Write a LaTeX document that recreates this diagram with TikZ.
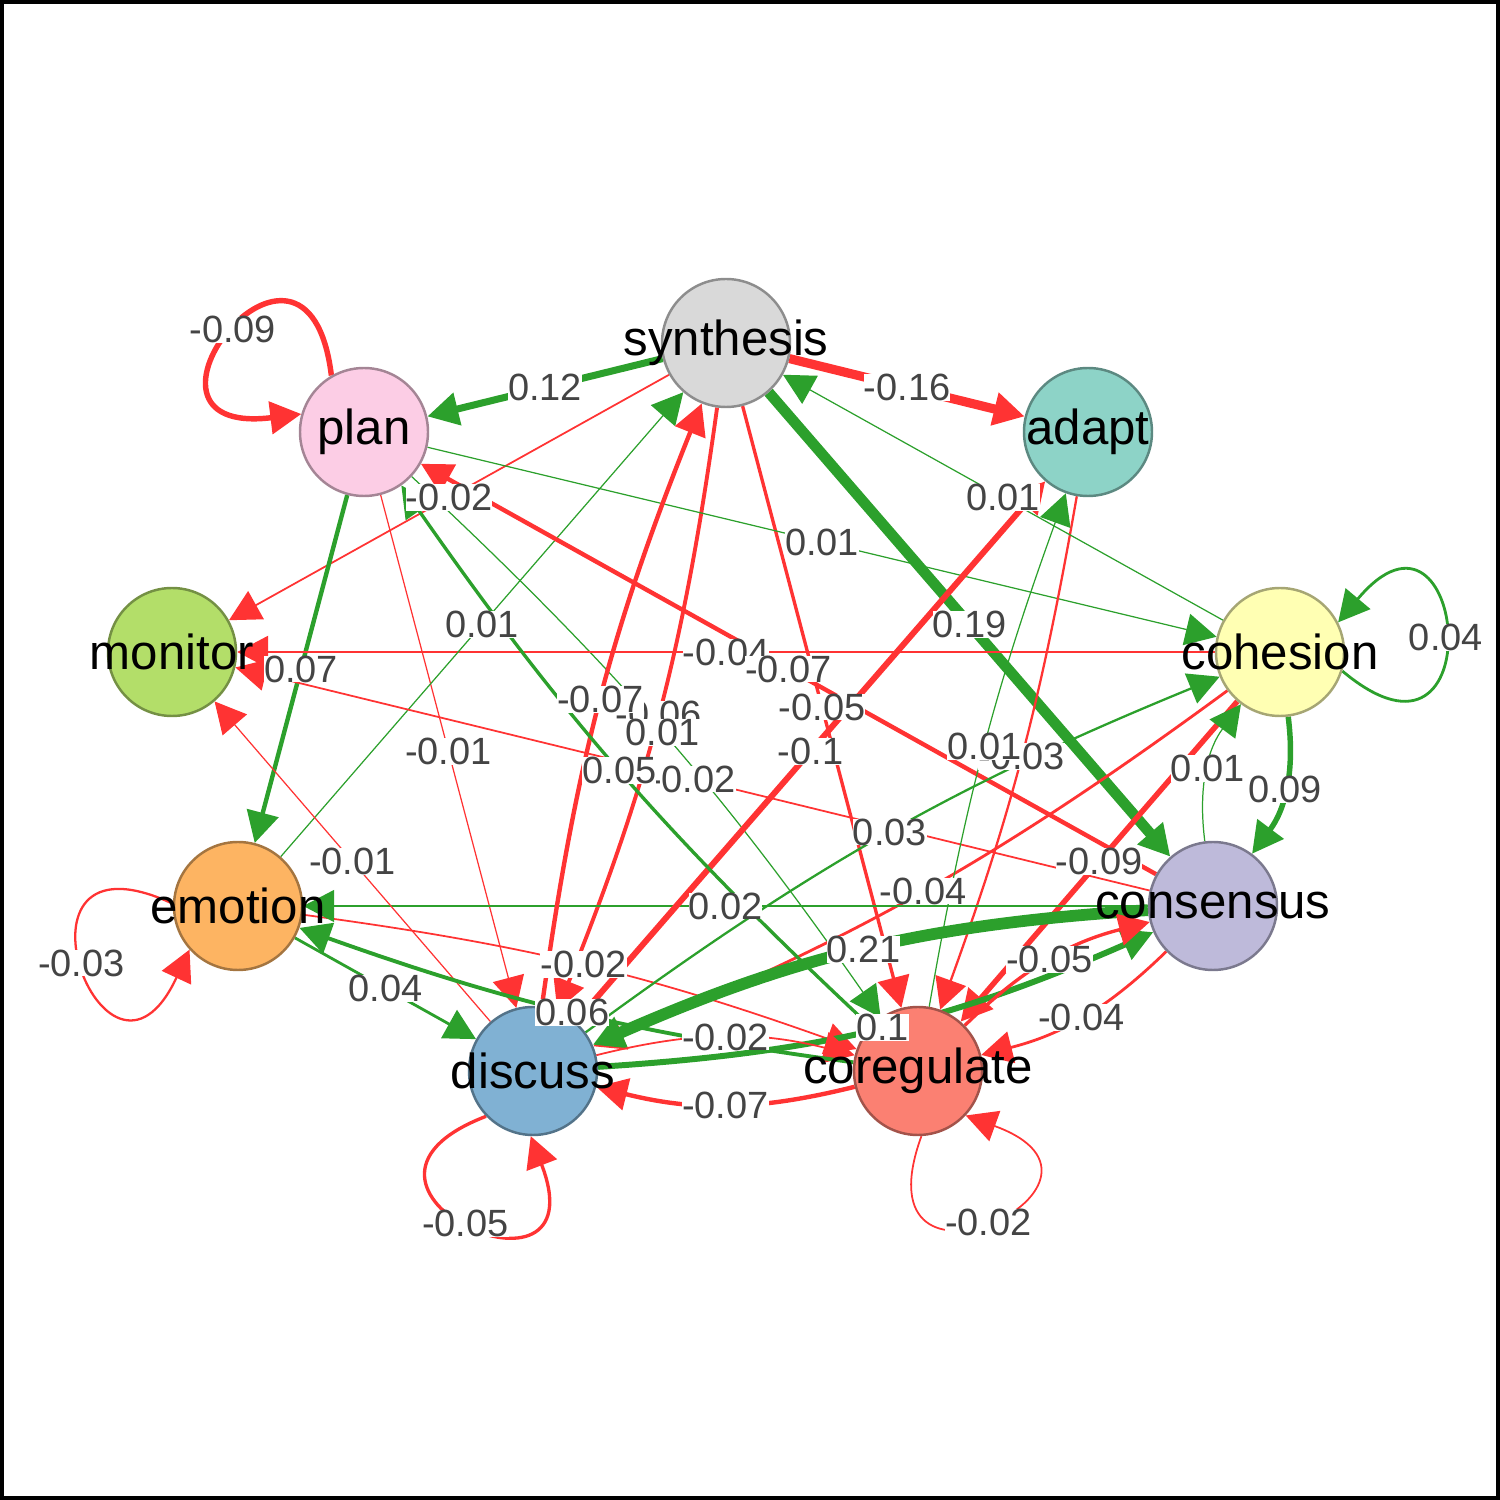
\documentclass[tikz,border=0pt]{standalone}
\usepackage{fontspec}
\setmainfont{Liberation Sans}
\usetikzlibrary{arrows.meta}

\definecolor{posgreen}{RGB}{44,160,44}
\definecolor{negred}{RGB}{255,51,51}
\definecolor{labgray}{RGB}{68,68,68}
\definecolor{cSyn}{HTML}{D9D9D9}
\definecolor{cAda}{HTML}{8DD3C7}
\definecolor{cPla}{HTML}{FCCDE5}
\definecolor{cMon}{HTML}{B3DE69}
\definecolor{cCoh}{HTML}{FFFFB3}
\definecolor{cEmo}{HTML}{FDB462}
\definecolor{cCon}{HTML}{BEBADA}
\definecolor{cDis}{HTML}{80B1D3}
\definecolor{cCor}{HTML}{FB8072}

\pgfdeclarelayer{edges}
\pgfsetlayers{edges,main}

\tikzset{
  tnode/.style={circle,minimum size=1.28cm,inner sep=0pt,line width=0.7pt,fill=#1,draw=#1!65!black},
  nlab/.style={inner sep=0pt,font=\fontsize{14}{14}\selectfont},
  elab/.style={fill=white,inner sep=0pt,text=labgray,font=\fontsize{10.8}{11}\selectfont},
  arr/.style={-{Triangle[length=3.1mm,width=3.2mm]}},
  posedge/.style={color=posgreen},
  negedge/.style={color=negred}
}

\newcommand\edgelist{%
S/P/0.12/posedge/0, S/A/-0.16/negedge/0, S/N/0.19/posedge/0, S/M/-0.02/negedge/0,%
S/R/-0.05/negedge/0, S/D/-0.06/negedge/7,%
P/E/0.07/posedge/0, P/C/0.01/posedge/0, P/D/-0.01/negedge/0, P/R/0.01/posedge/6,%
A/R/-0.03/negedge/5,%
C/S/0.01/posedge/0, C/M/-0.04/negedge/0, C/R/-0.09/negedge/0, C/D/-0.04/negedge/7,%
C/N/0.09/posedge/22,%
E/S/0.01/posedge/0, E/D/0.04/posedge/0, E/R/-0.02/negedge/6,%
N/P/-0.07/negedge/0, N/M/-0.02/negedge/0, N/E/0.02/posedge/0, N/D/0.21/posedge/-10,%
N/R/-0.04/negedge/15, N/C/0.01/posedge/22,%
D/S/-0.07/negedge/7, D/A/-0.1/negedge/0, D/M/-0.01/negedge/0, D/C/0.03/posedge/7,%
D/N/0.1/posedge/-10, D/R/-0.02/negedge/14,%
R/P/0.05/posedge/6, R/A/0.01/posedge/5, R/E/0.06/posedge/6, R/D/-0.07/negedge/14,%
R/N/-0.05/negedge/15}

% node/weight/colour/start anchor/out/end anchor/in
\newcommand\looplist{%
P/-0.09/negedge/120/97/164/187, C/0.04/posedge/343/320/27/50,%
E/-0.03/negedge/178/155/222/245, D/-0.05/negedge/224/201/268/291,%
R/-0.02/negedge/273/250/317/340}

\begin{document}
\begin{tikzpicture}
\useasboundingbox (0,0) rectangle (15,15);
\draw[line width=1.2pt] (0.02,0.02) rectangle (14.98,14.98);

\node[tnode=cSyn,label={[nlab]center:synthesis}] (S) at (7.26,11.57) {};
\node[tnode=cAda,label={[nlab]center:adapt}] (A) at (10.88,10.68) {};
\node[tnode=cPla,label={[nlab]center:plan}] (P) at (3.64,10.68) {};
\node[tnode=cMon,label={[nlab]center:monitor}] (M) at (1.72,8.48) {};
\node[tnode=cCoh,label={[nlab]center:cohesion}] (C) at (12.80,8.48) {};
\node[tnode=cEmo,label={[nlab]center:emotion}] (E) at (2.38,5.94) {};
\node[tnode=cCon,label={[nlab]center:consensus}] (N) at (12.13,5.94) {};
\node[tnode=cDis,label={[nlab]center:discuss}] (D) at (5.33,4.29) {};
\node[tnode=cCor,label={[nlab]center:coregulate}] (R) at (9.18,4.29) {};

\begin{pgfonlayer}{edges}
\foreach \a/\b/\w/\c/\k in \edgelist
  \draw[arr,\c,line width=0.2pt+15pt*abs(\w)] (\a) to[bend left=\k] (\b);
\foreach \a/\w/\c/\s/\o/\e/\i in \looplist
  \draw[arr,\c,line width=0.2pt+15pt*abs(\w)] (\a.\s) to[out=\o,in=\i,distance=2cm] (\a.\e);
\end{pgfonlayer}

\foreach \a/\b/\w/\c/\k in \edgelist
  \path (\a) to[bend left=\k] node[elab] {\w} (\b);
\foreach \a/\w/\c/\s/\o/\e/\i in \looplist
  \path (\a.\s) to[out=\o,in=\i,distance=2cm] node[elab] {\w} (\a.\e);
\end{tikzpicture}
\end{document}
